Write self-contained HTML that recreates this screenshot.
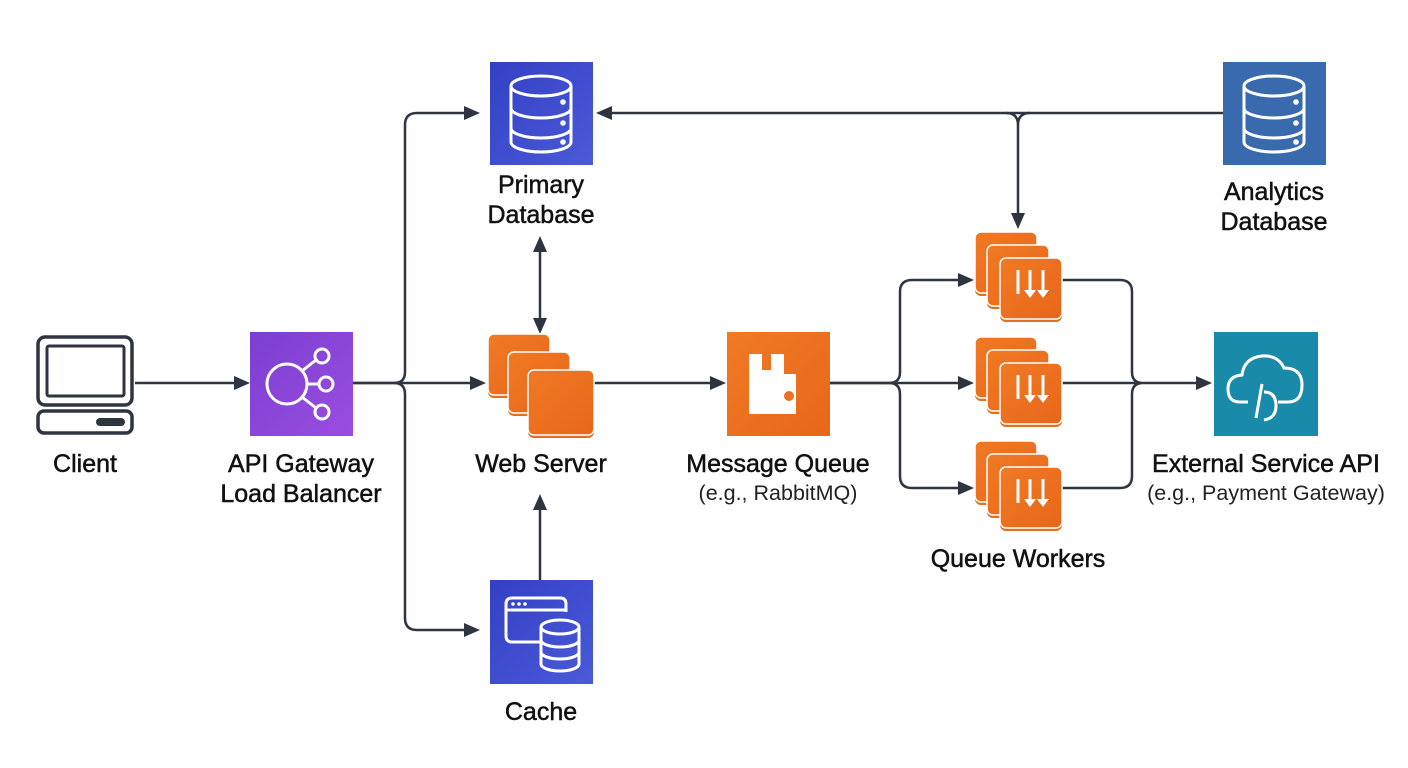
<!DOCTYPE html>
<html><head><meta charset="utf-8"><style>
html,body{margin:0;padding:0;background:#fff;}
svg{display:block;}
text{font-family:"Liberation Sans",sans-serif;fill:#111;text-anchor:middle;}
.t{font-size:25px;stroke:#111;stroke-width:0.5;}
.s{font-size:21.5px;fill:#222;}
.ln{fill:none;stroke:#2e3440;stroke-width:2.5;}
.ar{fill:#2e3440;}
</style></head><body>
<svg width="1408" height="768" viewBox="0 0 1408 768" xmlns="http://www.w3.org/2000/svg">
<defs>
<linearGradient id="gp" x1="0" y1="0" x2="1" y2="1"><stop offset="0" stop-color="#7b3fd0"/><stop offset="1" stop-color="#9a4de0"/></linearGradient>
<linearGradient id="gb" x1="0" y1="0" x2="1" y2="1"><stop offset="0" stop-color="#3340c4"/><stop offset="1" stop-color="#4a5ad8"/></linearGradient>
<linearGradient id="go" x1="0" y1="0" x2="1" y2="1"><stop offset="0" stop-color="#f07a24"/><stop offset="1" stop-color="#e8661a"/></linearGradient>
<g id="db">
<g fill="none" stroke="#fff" stroke-width="3">
<ellipse cx="51" cy="24" rx="30" ry="10"/>
<path d="M21 24 V80 A30 10 0 0 0 81 80 V24"/>
<path d="M21 46 A30 10 0 0 0 81 46"/>
<path d="M21 66 A30 10 0 0 0 81 66"/>
</g>
<circle cx="73" cy="40" r="2.8" fill="#fff"/><circle cx="73" cy="61" r="2.8" fill="#fff"/><circle cx="73" cy="80" r="2.8" fill="#fff"/>
</g>
<g id="sq"><rect x="0" y="0" width="62" height="64" rx="6" fill="#e07020"/><rect x="0" y="0" width="62" height="61" rx="6" fill="url(#go)" stroke="#fff" stroke-width="1.5"/></g>
<g id="wk">
<use href="#sq" x="0" y="0"/><use href="#sq" x="12" y="13"/><use href="#sq" x="25" y="26"/>
<g stroke="#fff" stroke-width="3" fill="none"><path d="M43 38 V62"/><path d="M55 38 V60"/><path d="M68 38 V60"/></g>
<path d="M49 58 L61 58 L55 66 Z M62 58 L74 58 L68 66 Z" fill="#fff"/>
</g>
</defs>

<path class="ln" d="M135 383 H238"/><path class="ar" d="M250 383 L234 376 L234 390 Z"/>
<path class="ln" d="M353 383 H394 Q405 383 405 372 V125 Q405 113 417 113 H466"/>
<path class="ar" d="M480 113 L464 106 L464 120 Z"/>
<path class="ln" d="M394 383 Q405 383 405 394 V618 Q405 630 417 630 H466"/>
<path class="ar" d="M480 630 L464 623 L464 637 Z"/>
<path class="ln" d="M353 383 H472"/><path class="ar" d="M486 383 L470 376 L470 390 Z"/>
<path class="ln" d="M540 250 V320"/><path class="ar" d="M540 236 L533 252 L547 252 Z M540 334 L533 318 L547 318 Z"/>
<path class="ln" d="M540 580 V508"/><path class="ar" d="M540 494 L533 510 L547 510 Z"/>
<path class="ln" d="M593 383 H712"/><path class="ar" d="M726 383 L710 376 L710 390 Z"/>
<path class="ln" d="M829 383 H889 Q900 383 900 372 V292 Q900 280 912 280 H960"/>
<path class="ar" d="M974 280 L958 273 L958 287 Z"/>
<path class="ln" d="M889 383 Q900 383 900 394 V476 Q900 488 912 488 H960"/>
<path class="ar" d="M974 488 L958 481 L958 495 Z"/>
<path class="ln" d="M829 383 H960"/><path class="ar" d="M974 383 L958 376 L958 390 Z"/>
<path class="ln" d="M1223 113 H610"/><path class="ar" d="M596 113 L612 106 L612 120 Z"/>
<path class="ln" d="M1006 113 Q1018 113 1018 125 V214 M1030 113 Q1018 113 1018 125"/>
<path class="ar" d="M1018 229 L1011 213 L1025 213 Z"/>
<path class="ln" d="M1062 280 H1120 Q1132 280 1132 292 V372 Q1132 383 1143 383 M1062 488 H1120 Q1132 488 1132 476 V394 Q1132 383 1143 383 M1062 383 H1198"/>
<path class="ar" d="M1212 383 L1196 376 L1196 390 Z"/>

<g fill="none" stroke="#2e3440" stroke-width="3.5">
<rect x="38" y="337" width="94" height="68" rx="7"/>
<rect x="47" y="346" width="77" height="50" rx="2" stroke-width="3"/>
<rect x="38" y="411" width="94" height="22" rx="6"/>
</g>
<rect x="96" y="418" width="29" height="8" rx="4" fill="#2e3440"/>
<text class="t" x="85" y="472">Client</text>

<rect x="250" y="332" width="103" height="104" fill="url(#gp)"/>
<g fill="none" stroke="#fff" stroke-width="3">
<circle cx="287" cy="384" r="20"/>
<circle cx="322" cy="356" r="7"/><circle cx="326" cy="384" r="7"/><circle cx="322" cy="412" r="7"/>
<path d="M302 371 L316 360 M307 384 H319 M302 397 L316 408"/>
</g>
<text class="t" x="301" y="472">API Gateway</text>
<text class="t" x="301" y="502">Load Balancer</text>

<rect x="490" y="62" width="103" height="103" fill="url(#gb)"/>
<use href="#db" x="490" y="62"/>
<text class="t" x="541" y="193">Primary</text>
<text class="t" x="541" y="223">Database</text>

<use href="#sq" x="488" y="334"/>
<use href="#sq" x="508" y="352"/>
<g transform="translate(528 370)"><rect width="66" height="68" rx="6" fill="#e07020"/><rect width="66" height="65" rx="6" fill="url(#go)" stroke="#fff" stroke-width="1.5"/></g>
<text class="t" x="541" y="472">Web Server</text>

<rect x="490" y="580" width="103" height="104" fill="url(#gb)"/>
<g fill="none" stroke="#fff" stroke-width="3">
<path d="M540 642 H512 Q506 642 506 636 V604 Q506 598 512 598 H560 Q566 598 566 604 V612"/>
<path d="M506 610 H566"/>
<ellipse cx="560" cy="627" rx="19" ry="7"/>
<path d="M541 627 V664 A19 7 0 0 0 579 664 V627 M541 640 A19 7 0 0 0 579 640 M541 652 A19 7 0 0 0 579 652"/>
</g>
<circle cx="513" cy="604" r="1.8" fill="#fff"/><circle cx="519" cy="604" r="1.8" fill="#fff"/><circle cx="525" cy="604" r="1.8" fill="#fff"/>
<text class="t" x="541" y="720">Cache</text>

<rect x="727" y="332" width="103" height="104" fill="url(#go)"/>
<path d="M749 354 H762 V370 H771 V354 H784 V374 H796 V414 H749 Z" fill="#fff"/>
<circle cx="789" cy="396" r="5" fill="#ee7020"/>
<text class="t" x="778" y="472">Message Queue</text>
<text class="s" x="778" y="500">(e.g., RabbitMQ)</text>

<use href="#wk" x="975" y="232"/>
<use href="#wk" x="975" y="337"/>
<use href="#wk" x="975" y="441"/>
<text class="t" x="1018" y="567">Queue Workers</text>

<rect x="1223" y="62" width="103" height="103" fill="#3a6aae"/>
<use href="#db" x="1223" y="62"/>
<text class="t" x="1274" y="200">Analytics</text>
<text class="t" x="1274" y="230">Database</text>

<rect x="1214" y="332" width="104" height="104" fill="#1a8aab"/>
<g fill="none" stroke="#fff" stroke-width="3">
<path d="M1248 402 H1240 Q1228 402 1228 389 Q1228 376 1242 375 Q1244 358 1262 356 Q1278 355 1284 368 Q1302 368 1302 385 Q1302 402 1288 402 H1278"/>
<path d="M1256 418 L1262 384"/>
<path d="M1264 392 Q1276 392 1276 406 Q1276 418 1264 420"/>
</g>
<text class="t" x="1266" y="472">External Service API</text>
<text class="s" x="1266" y="500">(e.g., Payment Gateway)</text>
</svg>
</body></html>
